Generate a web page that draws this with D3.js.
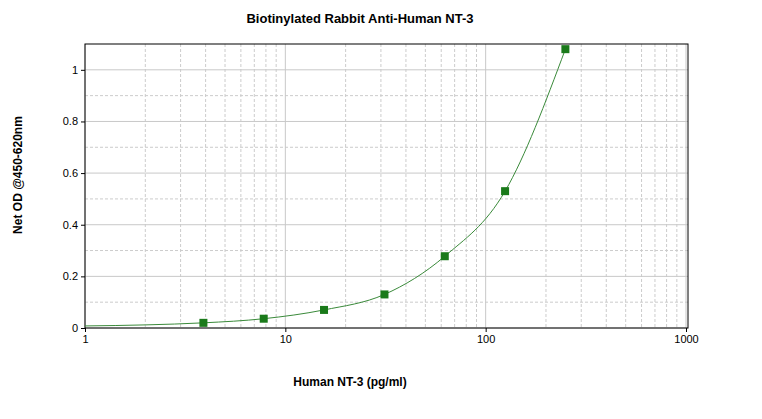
<!DOCTYPE html>
<html><head><meta charset="utf-8">
<script src="https://cdn.jsdelivr.net/npm/d3@7"></script>
<style>body{margin:0;background:#fff}text{font-family:Arial,"Liberation Sans",sans-serif}</style>
</head><body><svg id="c" width="762" height="419"></svg>
<script>
const concentrations=[3.9,7.8,15.6,31.25,62.5,125,250];
const odValues=[0.02,0.036,0.07,0.13,0.278,0.53,1.08];
const curveX=[1,2,3.9,7.8,15.6,31.25,62.5,125,250];
const curveY=[0.008,0.012,0.02,0.036,0.07,0.13,0.278,0.53,1.08];
const xTicks=[1,10,100,1000];
const yTicks=[0,0.2,0.4,0.6,0.8,1];
const svg=d3.select("#c");
const L=85,R=688,T=44,B=328;
const x=d3.scaleLog().domain([1,1000]).range([L,686]);
const y=d3.scaleLinear().domain([0,1.1]).range([B,T]);
const g=svg.append("g");
const minors=[];for(let d=1;d<1000;d*=10)for(let k=2;k<=9;k++)minors.push(d*k);
g.selectAll(".mx").data(minors).enter().append("line").attr("x1",d=>x(d)).attr("x2",d=>x(d)).attr("y1",T).attr("y2",B).attr("stroke","#ccc").attr("stroke-dasharray","3,2");
const yMin=d3.range(0.1,1.1,0.2);
g.selectAll(".my").data(yMin).enter().append("line").attr("x1",L).attr("x2",R).attr("y1",d=>y(d)).attr("y2",d=>y(d)).attr("stroke","#ccc").attr("stroke-dasharray","3,2");
g.selectAll(".Mx").data(xTicks).enter().append("line").attr("x1",d=>x(d)).attr("x2",d=>x(d)).attr("y1",T).attr("y2",B).attr("stroke","#c8c8c8");
g.selectAll(".My").data(yTicks).enter().append("line").attr("x1",L).attr("x2",R).attr("y1",d=>y(d)).attr("y2",d=>y(d)).attr("stroke","#c8c8c8");
svg.append("rect").attr("x",L).attr("y",T).attr("width",R-L).attr("height",B-T).attr("fill","none").attr("stroke","#000");
svg.append("g").attr("transform",`translate(0,${B})`).call(d3.axisBottom(x).tickValues(xTicks).tickFormat(d=>String(d)).tickSize(4)).call(a=>a.select(".domain").remove()).selectAll("text").attr("font-size",11).attr("fill","#000");
svg.append("g").attr("transform",`translate(${L},0)`).call(d3.axisLeft(y).tickValues(yTicks).tickFormat(d=>String(Math.round(d*10)/10)).tickSize(4)).call(a=>a.select(".domain").remove()).selectAll("text").attr("font-size",11).attr("fill","#000");
const line=d3.line().x((d,i)=>x(curveX[i])).y(d=>y(d)).curve(d3.curveMonotoneX);
svg.append("path").attr("d",line(curveY)).attr("fill","none").attr("stroke","#3a8a3a").attr("stroke-width",1);
svg.selectAll(".pt").data(concentrations).enter().append("rect").attr("x",(d)=>x(d)-4).attr("y",(d,i)=>y(odValues[i])-4).attr("width",8).attr("height",8).attr("fill","#1a7a1a");
svg.append("text").attr("x",360).attr("y",23).attr("text-anchor","middle").attr("font-size",13).attr("font-weight","bold").text("Biotinylated Rabbit Anti-Human NT-3");
svg.append("text").attr("x",350).attr("y",386).attr("text-anchor","middle").attr("font-size",12).attr("font-weight","bold").text("Human NT-3 (pg/ml)");
svg.append("text").attr("transform","translate(22,175) rotate(-90)").attr("text-anchor","middle").attr("font-size",12).attr("font-weight","bold").text("Net OD @450-620nm");
</script></body></html>
